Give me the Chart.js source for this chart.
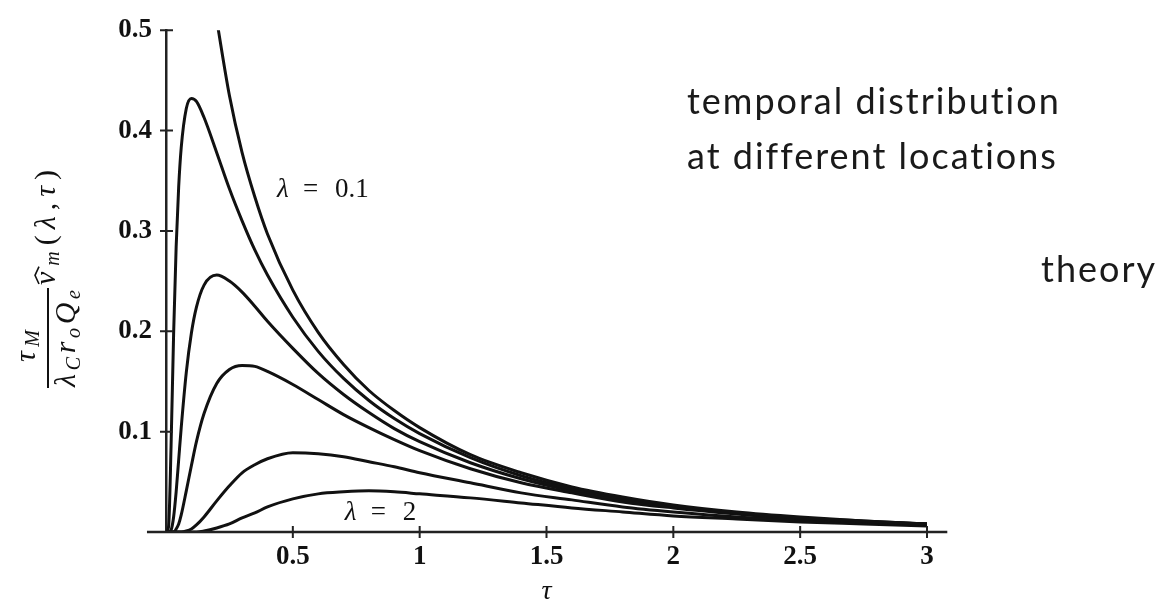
<!DOCTYPE html>
<html>
<head>
<meta charset="utf-8">
<script src="https://cdn.jsdelivr.net/npm/chart.js@4.4.1/dist/chart.umd.min.js"></script>
<style>
    html, body { margin: 0; padding: 0; background: #fff; }
    #wrap { position: relative; width: 1165px; height: 608px; overflow: hidden; }
    #chart { position: absolute; left: 0; top: 0; }
    .note {
        position: absolute;
        font-family: Lato, "Open Sans", sans-serif;
        font-size: 36px;
        letter-spacing: 2px;
        line-height: 55px;
        color: #1a1a1a;
        white-space: nowrap;
    }
</style>
</head>
<body>
<div id="wrap">
    <canvas id="chart" width="1165" height="608"></canvas>
    <div class="note" style="left:687px; top:73px">temporal distribution<br>at different locations</div>
    <div class="note" style="left:1041px; top:241px">theory</div>
</div>
<script>
// time axis (tau) shared by all curves
const tau = [0, 0.01, 0.02, 0.03, 0.04, 0.05, 0.06, 0.08, 0.1, 0.12, 0.15,
             0.2, 0.25, 0.3, 0.35, 0.4, 0.5, 0.6, 0.7, 0.8, 0.9, 1.0,
             1.2, 1.4, 1.6, 1.8, 2.0, 2.25, 2.5, 2.75, 3.0];

// one curve per location lambda
const lambdas = ['0.1', '0.5', '0.75', '1', '1.5', '2'];

const vLam01 = [null, null, null, null, null, null, null, null, null, null, null,
                0.510, 0.435, 0.378, 0.334, 0.297, 0.241, 0.199, 0.167, 0.141, 0.121, 0.104,
                0.077, 0.059, 0.045, 0.035, 0.027, 0.020, 0.015, 0.011, 0.008];
const vLam05 = [0, 0.005, 0.086, 0.197, 0.284, 0.344, 0.383, 0.422, 0.432, 0.429, 0.413,
                0.378, 0.342, 0.310, 0.281, 0.256, 0.214, 0.180, 0.153, 0.131, 0.113, 0.098,
                0.074, 0.056, 0.043, 0.034, 0.026, 0.019, 0.014, 0.011, 0.008];
const vLam075 = [0, 0, 0.002, 0.015, 0.040, 0.072, 0.104, 0.159, 0.198, 0.224, 0.246,
                 0.256, 0.250, 0.239, 0.225, 0.210, 0.183, 0.158, 0.137, 0.119, 0.103, 0.090,
                 0.069, 0.053, 0.041, 0.032, 0.025, 0.019, 0.014, 0.010, 0.008];
const vLam1 = [0, 0, 0, 0, 0.003, 0.008, 0.017, 0.041, 0.066, 0.090, 0.118,
               0.148, 0.162, 0.166, 0.165, 0.160, 0.147, 0.132, 0.117, 0.104, 0.092, 0.081,
               0.063, 0.049, 0.039, 0.030, 0.024, 0.018, 0.013, 0.010, 0.008];
const vLam15 = [0, 0, 0, 0, 0, 0, 0, 0.001, 0.003, 0.007, 0.015,
                0.031, 0.046, 0.059, 0.067, 0.073, 0.079, 0.078, 0.075, 0.070, 0.065, 0.059,
                0.049, 0.039, 0.032, 0.025, 0.020, 0.015, 0.012, 0.009, 0.007];
const vLam2 = [0, 0, 0, 0, 0, 0, 0, 0, 0, 0, 0.001,
               0.004, 0.008, 0.014, 0.019, 0.025, 0.033, 0.038, 0.040, 0.041, 0.040, 0.038,
               0.034, 0.029, 0.024, 0.020, 0.016, 0.013, 0.010, 0.008, 0.006];

const series = [vLam01, vLam05, vLam075, vLam1, vLam15, vLam2];

const xTicks = [0.5, 1, 1.5, 2, 2.5, 3];
const yTicks = [0.1, 0.2, 0.3, 0.4, 0.5];

const INK = '#111';
const tickFont = { family: '"Liberation Serif", serif', weight: 'bold', size: 27 };
const IT = s => `italic ${s}px "Liberation Serif", serif`;
const RM = s => `${s}px "Liberation Serif", serif`;

// draw text runs along a line, spreading the gaps so it spans a0..a1
function runLine(ctx, a0, a1, runs) {
    let w = 0;
    runs.forEach(([t, f]) => { ctx.font = f; w += ctx.measureText(t).width; });
    const gap = Math.max(0, (a1 - a0 - w) / Math.max(1, runs.length - 1));
    let a = a0;
    const pos = [];
    runs.forEach(([t, f, b]) => {
        ctx.font = f;
        const tw = ctx.measureText(t).width;
        pos.push([a, tw]);
        ctx.fillText(t, a, b);
        a += tw + gap;
    });
    return pos;
}

// rotated y axis title: tau_M / (lambda_C r_o Q_e) * v^_m(lambda, tau)
function drawYTitle(ctx) {
    ctx.save();
    ctx.translate(48, 388);
    ctx.rotate(-Math.PI / 2);
    ctx.fillStyle = INK;
    ctx.strokeStyle = INK;
    ctx.textBaseline = 'alphabetic';
    ctx.textAlign = 'left';
    ctx.fillRect(0, -1, 100, 2);
    runLine(ctx, 26, 58, [['τ', IT(30), -13], ['M', IT(20), -9]]);
    runLine(ctx, 1, 98, [['λ', IT(30), 27], ['C', IT(20), 32], ['r', IT(30), 27],
                         ['o', IT(20), 32], ['Q', IT(30), 27], ['e', IT(20), 32]]);
    const p = runLine(ctx, 103, 218, [['v', IT(30), 7], ['m', IT(20), 11], ['(', RM(30), 7],
                                      ['λ', IT(30), 7], [',', RM(30), 7], ['τ', IT(30), 7],
                                      [')', RM(30), 7]]);
    // wide hat over v
    const [vx, vw] = p[0];
    ctx.lineWidth = 1.6;
    ctx.beginPath();
    ctx.moveTo(vx + 1, -9);
    ctx.lineTo(vx + vw / 2 + 3, -13);
    ctx.lineTo(vx + vw + 5, -9);
    ctx.stroke();
    ctx.restore();
}

function drawLambdaLabel(ctx, x, y, value) {
    ctx.fillStyle = INK;
    ctx.textBaseline = 'alphabetic';
    ctx.textAlign = 'left';
    ctx.font = IT(27);
    ctx.fillText('λ', x, y);
    ctx.font = RM(27);
    ctx.fillText('=', x + 26, y);
    ctx.fillText(value, x + 58, y);
}

const decor = {
    id: 'decor',
    afterDraw(chart) {
        const { ctx, scales: { x, y } } = chart;
        ctx.save();
        // x axis runs a little past both ends
        const y0 = y.getPixelForValue(0);
        ctx.strokeStyle = '#222';
        ctx.lineWidth = 2.5;
        ctx.beginPath();
        ctx.moveTo(x.getPixelForValue(-0.075), y0);
        ctx.lineTo(x.getPixelForValue(3.08), y0);
        ctx.stroke();
        // tick marks crossing the axes
        ctx.lineWidth = 2;
        const x0 = x.getPixelForValue(0);
        ctx.beginPath();
        x.ticks.forEach(t => {
            const px = x.getPixelForValue(t.value);
            ctx.moveTo(px, y0 - 6);
            ctx.lineTo(px, y0 + 6);
        });
        y.ticks.forEach(t => {
            const py = y.getPixelForValue(t.value);
            ctx.moveTo(x0 - 6, py);
            ctx.lineTo(x0 + 7, py);
        });
        ctx.stroke();

        drawLambdaLabel(ctx, x.getPixelForValue(0.4375), y.getPixelForValue(0.334), '0.1');
        drawLambdaLabel(ctx, x.getPixelForValue(0.705), y.getPixelForValue(0.0118), '2');
        drawYTitle(ctx);
        ctx.restore();
    }
};

new Chart(document.getElementById('chart'), {
    type: 'line',
    data: {
        datasets: series.map((vals, i) => ({
            label: 'λ = ' + lambdas[i],
            data: tau.map((t, j) => ({ x: t, y: vals[j] })),
            borderColor: INK,
            borderWidth: 3,
            pointRadius: 0,
            fill: false,
            spanGaps: true,
            cubicInterpolationMode: 'monotone'
        }))
    },
    options: {
        responsive: false,
        animation: false,
        devicePixelRatio: 1,
        layout: { padding: { left: 0, right: 238, top: 25, bottom: 0 } },
        plugins: { legend: { display: false }, tooltip: { enabled: false } },
        scales: {
            x: {
                type: 'linear',
                min: 0,
                max: 3,
                grid: { display: false, drawTicks: false },
                border: { display: false },
                afterBuildTicks: s => { s.ticks = xTicks.map(v => ({ value: v })); },
                afterFit: s => { s.height = 76; },
                ticks: { font: tickFont, color: INK, padding: 9, maxRotation: 0, autoSkip: false,
                         callback: v => String(v) },
                title: { display: true, text: 'τ', color: INK, padding: 0,
                         font: { family: '"Liberation Serif", serif', style: 'italic', size: 28 } }
            },
            y: {
                type: 'linear',
                min: 0,
                max: 0.5,
                grid: { display: false, drawTicks: false },
                border: { display: true, color: '#222', width: 2.5 },
                afterBuildTicks: s => { s.ticks = yTicks.map(v => ({ value: v })); },
                afterFit: s => { s.width = 166; },
                ticks: { font: tickFont, color: INK, padding: 14, callback: v => String(v) }
            }
        }
    },
    plugins: [decor]
});
</script>
</body>
</html>
